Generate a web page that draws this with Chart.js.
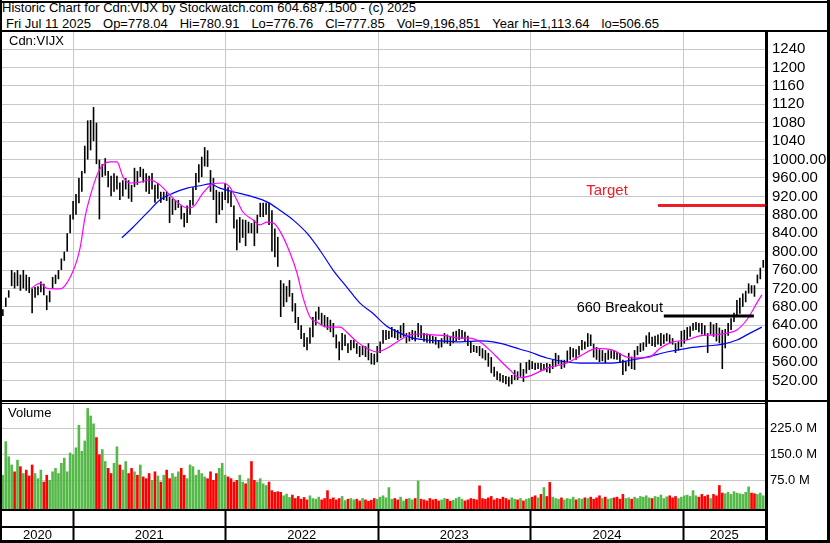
<!DOCTYPE html>
<html>
<head>
<meta charset="utf-8">
<script src="https://cdn.jsdelivr.net/npm/chart.js@4.4.1/dist/chart.umd.min.js"></script>
<style>
    html, body { margin: 0; padding: 0; background: #fff; }
    #page { position: relative; width: 830px; height: 543px; overflow: hidden; font-family: "Liberation Sans", Arial, sans-serif; color: #000; }
    .rule { position: absolute; background: #000; }
    .txt { position: absolute; font-size: 13px; line-height: 16px; white-space: pre; }
    .fields span + span { margin-left: 12px; }
    #priceWrap { position: absolute; left: 2px; top: 32px; width: 826px; height: 368px; }
    #volWrap { position: absolute; left: 2px; top: 404px; width: 826px; height: 137px; }
</style>
</head>
<body>
<div id="page">
    <div class="txt" style="left:2px;top:0px;">Historic Chart for Cdn:VIJX by Stockwatch.com 604.687.1500 - (c) 2025</div>
    <div class="txt fields" style="left:6px;top:16px;"><span>Fri Jul 11 2025</span><span>Op=778.04</span><span>Hi=780.91</span><span>Lo=776.76</span><span>Cl=777.85</span><span>Vol=9,196,851</span><span>Year hi=1,113.64</span><span>lo=506.65</span></div>
    <div id="priceWrap"><canvas id="priceChart" width="826" height="368"></canvas></div>
    <div id="volWrap"><canvas id="volumeChart" width="826" height="137"></canvas></div>
    <div class="txt" style="left:9px;top:33px;">Cdn:VIJX</div>
    <div class="txt" style="left:8px;top:405px;">Volume</div>

    <div class="rule" style="left:0;top:1px;width:830px;height:2px;"></div>
    <div class="rule" style="left:0;top:0;width:2px;height:543px;"></div>
    <div class="rule" style="left:827px;top:0;width:3px;height:543px;"></div>
    <div class="rule" style="left:0;top:540px;width:830px;height:3px;"></div>
    <div class="rule" style="left:0;top:30px;width:830px;height:2px;"></div>
    <div class="rule" style="left:0;top:400px;width:830px;height:2px;"></div>
    <div class="rule" style="left:0;top:403px;width:766px;height:1px;"></div>
    <div class="rule" style="left:0;top:509px;width:766px;height:2px;"></div>
    <div class="rule" style="left:0;top:526px;width:766px;height:2px;"></div>
    <div class="rule" style="left:765px;top:31px;width:3px;height:510px;"></div>
</div>
<script>
// weekly ranges, Jul 17 2020 .. Jul 11 2025 (week index 0..260)
const lows = [
    660, 680, 700, 725, 720, 725, 715, 720, 715, 710,
    666, 700, 705, 712, 705, 673, 690, 720, 730, 740,
    760, 780, 800, 840, 870, 880, 905, 930, 970, 1000,
    1020, 1040, 990, 870, 962, 965, 940, 920, 930, 935,
    912, 920, 935, 915, 908, 940, 945, 962, 950, 930,
    925, 935, 906, 915, 906, 912, 910, 862, 880, 890,
    895, 870, 853, 862, 880, 900, 934, 950, 962, 985,
    984, 930, 912, 862, 880, 890, 912, 905, 897, 850,
    803, 819, 830, 812, 840, 840, 812, 840, 875, 875,
    880, 858, 800, 788, 767, 658, 680, 690, 702, 670,
    645, 630, 610, 593, 586, 600, 614, 640, 652, 640,
    636, 630, 625, 614, 590, 564, 586, 595, 580, 586,
    590, 578, 571, 575, 571, 564, 555, 554, 560, 580,
    600, 608, 610, 614, 612, 608, 612, 615, 601, 605,
    608, 605, 614, 612, 604, 602, 601, 601, 598, 590,
    592, 601, 600, 595, 601, 605, 608, 610, 604, 595,
    580, 582, 580, 573, 568, 564, 550, 536, 528, 521,
    518, 515, 512, 507, 512, 521, 521, 528, 517, 535,
    543, 545, 543, 545, 540, 542, 538, 536, 545, 550,
    555, 545, 548, 560, 565, 570, 565, 575, 586, 588,
    593, 595, 570, 565, 560, 562, 558, 565, 568, 566,
    565, 558, 532, 540, 551, 545, 543, 575, 582, 585,
    593, 600, 595, 593, 598, 595, 600, 605, 601, 598,
    580, 585, 593, 600, 608, 615, 628, 630, 625, 620,
    617, 580, 620, 615, 605, 601, 545, 590, 617, 630,
    647, 658, 665, 680, 690, 709, 709, 702, 731, 740,
    765
];
const highs = [
    675, 700, 716, 760, 755, 760, 750, 760, 750, 745,
    720, 723, 725, 735, 730, 705, 715, 745, 750, 760,
    785, 800, 840, 880, 910, 925, 960, 975, 1030, 1085,
    1086, 1114, 1080, 1000, 990, 1003, 975, 965, 970, 965,
    950, 955, 960, 955, 945, 982, 975, 984, 980, 970,
    965, 971, 945, 949, 930, 930, 930, 919, 915, 912,
    912, 900, 884, 900, 912, 940, 971, 990, 1006, 1027,
    1020, 977, 960, 934, 930, 930, 949, 940, 930, 900,
    870, 875, 870, 869, 865, 862, 869, 880, 906, 906,
    906, 906, 890, 850, 832, 738, 731, 725, 738, 710,
    688, 658, 640, 623, 614, 635, 658, 670, 680, 667,
    662, 658, 652, 645, 620, 605, 623, 620, 601, 608,
    608, 601, 595, 595, 595, 601, 580, 578, 595, 605,
    630, 630, 628, 636, 632, 630, 640, 645, 623, 625,
    630, 628, 645, 640, 623, 622, 620, 617, 615, 608,
    612, 623, 620, 617, 626, 628, 632, 630, 626, 617,
    605, 597, 595, 595, 590, 586, 580, 571, 550, 540,
    536, 532, 530, 528, 532, 543, 540, 558, 545, 560,
    565, 562, 558, 558, 558, 556, 558, 556, 565, 580,
    575, 565, 565, 585, 593, 590, 588, 595, 608, 605,
    623, 620, 600, 593, 588, 586, 580, 586, 586, 585,
    582, 580, 565, 562, 580, 572, 586, 595, 601, 603,
    618, 625, 615, 617, 620, 623, 620, 623, 620, 612,
    601, 605, 628, 630, 636, 638, 645, 647, 645, 645,
    640, 623, 647, 642, 645, 635, 630, 632, 645, 655,
    667, 695, 700, 709, 715, 731, 727, 727, 750, 765,
    782
];
// daily volume level, millions
const volumes = [
    90, 188, 144, 120, 100, 134, 115, 95, 105, 88,
    120, 95, 80, 105, 70, 90, 75, 100, 110, 95,
    125, 140, 100, 155, 150, 170, 236, 160, 190, 285,
    263, 240, 200, 150, 165, 130, 110, 95, 125, 173,
    120, 105, 130, 95, 110, 100, 90, 120, 85, 80,
    95, 75, 100, 88, 70, 90, 105, 80, 95, 85,
    100, 110, 90, 80, 120, 115, 90, 105, 95, 85,
    80, 100, 75, 95, 110, 125, 90, 85, 80, 70,
    75, 90, 70, 65, 80, 130, 75, 70, 80, 65,
    60, 70, 45, 40, 42, 40, 30, 35, 25, 32,
    22, 28, 20, 25, 18, 30, 22, 20, 26, 18,
    22, 45, 20, 24, 18, 22, 28, 16, 20, 22,
    18, 20, 15, 22, 18, 14, 17, 22, 20, 26,
    30, 24, 54, 20, 22, 18, 26, 15, 20, 22,
    18, 22, 73, 20, 18, 15, 22, 18, 20, 15,
    18, 22, 20, 14, 17, 22, 26, 20, 15, 18,
    22, 20, 18, 59, 22, 20, 24, 28, 18, 22,
    20, 26, 22, 18, 24, 20, 18, 22, 15, 20,
    22, 26, 30, 24, 34, 54, 28, 69, 26, 22,
    20, 24, 18, 22, 20, 26, 18, 22, 20, 24,
    22, 26, 20, 24, 30, 22, 26, 20, 22, 24,
    26, 20, 34, 22, 24, 20, 26, 22, 28, 26,
    30, 24, 22, 28, 26, 32, 22, 27, 30, 24,
    28, 22, 26, 30, 32, 28, 45, 30, 26, 34,
    28, 32, 22, 34, 30, 60, 38, 36, 40, 34,
    42, 38, 36, 34, 40, 56, 38, 36, 34, 38,
    30
];

const fastMaWeeks = [9.6, 12.7, 15.1, 19.5, 24.0, 26.4, 28.1, 29.8, 32.5, 34.2, 36.6, 39.0, 41.1, 43.5, 46.9, 50.3, 53.7, 56.5, 59.5, 63.0, 65.0, 68.4, 71.8, 75.3, 77.6, 80.0, 82.1, 85.5, 87.9, 90.3, 92.3, 94.7, 98.2, 100.6, 102.6, 105.0, 107.4, 110.8, 115.3, 117.6, 121.1, 124.5, 127.9, 131.3, 135.8, 139.2, 142.6, 147.1, 151.8, 156.3, 159.7, 163.1, 166.5, 170.0, 173.4, 176.8, 180.2, 186.0, 192.9, 197.3, 203.1, 208.6, 213.4, 217.8, 221.2, 224.7, 229.1, 233.9, 238.3, 242.8, 247.6, 251.0, 254.4, 257.8, 259.5];
const fastMa = [720, 731, 720, 719, 758, 808, 875, 919, 971, 988, 995, 995, 962, 949, 951, 956, 945, 927, 908, 895, 897, 927, 947, 949, 940, 912, 886, 869, 858, 864, 863, 845, 797, 753, 701, 658, 647, 636, 636, 625, 604, 590, 582, 590, 608, 619, 621, 619, 617, 612, 612, 604, 586, 564, 543, 526, 530, 547, 558, 573, 590, 586, 571, 569, 571, 590, 604, 608, 617, 619, 623, 630, 652, 688, 706];
const slowMaWeeks = [40.7, 44.5, 49.3, 53.7, 58.2, 63.0, 67.4, 70.8, 74.2, 78.7, 85.5, 90.3, 94.7, 99.2, 104.0, 108.4, 112.9, 117.6, 122.1, 126.5, 131.3, 135.8, 140.2, 145.0, 149.4, 156.3, 163.1, 167.6, 172.4, 176.8, 180.2, 186.0, 197.3, 208.6, 214.4, 220.2, 227.0, 233.9, 240.7, 246.2, 251.0, 255.5, 259.5];
const slowMa = [830, 853, 884, 912, 927, 938, 943, 947, 938, 930, 919, 908, 890, 869, 840, 803, 760, 723, 688, 666, 638, 623, 612, 608, 606, 604, 606, 604, 597, 588, 582, 569, 558, 558, 564, 571, 582, 590, 595, 599, 608, 623, 636];

const yearStarts = [24.0, 76.14, 128.29, 180.43, 232.71];
const yearMids = [11.85, 50.07, 102.2, 154.36, 206.57, 246.65];
const yearLabels = ['2020', '2021', '2022', '2023', '2024', '2025'];
const priceTicks = [520, 560, 600, 640, 680, 720, 760, 800, 840, 880, 920, 960, 1000, 1040, 1080, 1120, 1160, 1200, 1240];
const volTicks = [75, 150, 225];

const targetPrice = 900;
const breakoutPrice = 660;

const X_MIN = -0.3;
const X_MAX = 260.6;
const VOL_FLOOR = -9.6;
const GRID = '#c8c8c8';
const FAMILY = '"Liberation Sans", Arial, sans-serif';

function noPad(scale) {
    scale.paddingTop = 0;
    scale.paddingBottom = 0;
    scale.paddingLeft = 0;
    scale.paddingRight = 0;
}

const weeks = lows.map((_, i) => i);

const notes = {
    id: 'notes',
    afterDatasetsDraw(chart) {
        const { ctx } = chart;
        const x = chart.scales.x;
        const y = chart.scales.y;
        ctx.save();
        ctx.textAlign = 'right';
        ctx.textBaseline = 'middle';
        ctx.font = '15px ' + FAMILY;
        ctx.fillStyle = '#ee1c25';
        ctx.fillText('Target', x.getPixelForValue(213.7), y.getPixelForValue(932));
        ctx.font = '14.5px ' + FAMILY;
        ctx.fillStyle = '#000';
        ctx.fillText('660 Breakout', x.getPixelForValue(225.7), y.getPixelForValue(677));
        ctx.restore();
    },
};

new Chart(document.getElementById('priceChart'), {
    type: 'bar',
    data: {
        datasets: [
            {
                type: 'line',
                data: [{ x: 224, y: targetPrice }, { x: X_MAX, y: targetPrice }],
                borderColor: '#ee1c25',
                borderWidth: 3,
                pointRadius: 0,
                order: 0,
            },
            {
                type: 'line',
                data: [{ x: 226, y: breakoutPrice }, { x: 256.8, y: breakoutPrice }],
                borderColor: '#000',
                borderWidth: 3,
                pointRadius: 0,
                order: 0,
            },
            {
                type: 'line',
                data: fastMaWeeks.map((w, i) => ({ x: w, y: fastMa[i] })),
                borderColor: '#ff00ff',
                borderWidth: 1.2,
                pointRadius: 0,
                cubicInterpolationMode: 'monotone',
                order: 1,
            },
            {
                type: 'line',
                data: slowMaWeeks.map((w, i) => ({ x: w, y: slowMa[i] })),
                borderColor: '#0000ff',
                borderWidth: 1.2,
                pointRadius: 0,
                cubicInterpolationMode: 'monotone',
                order: 1,
            },
            {
                type: 'bar',
                data: weeks.map((i) => ({ x: i, y: [lows[i], highs[i]] })),
                backgroundColor: '#000',
                borderWidth: 0,
                barPercentage: 0.55,
                categoryPercentage: 1,
                order: 2,
            },
        ],
    },
    options: {
        responsive: false,
        animation: false,
        devicePixelRatio: 1,
        layout: { padding: 0 },
        plugins: { legend: { display: false }, tooltip: { enabled: false } },
        scales: {
            x: {
                type: 'linear',
                offset: false,
                min: X_MIN,
                max: X_MAX,
                afterBuildTicks: (s) => { s.ticks = yearStarts.map((v) => ({ value: v })); },
                ticks: { display: false },
                grid: { color: GRID, drawTicks: false, offset: false },
                border: { display: false },
                afterFit: (s) => { s.height = 0; noPad(s); },
            },
            y: {
                type: 'linear',
                position: 'right',
                min: 477.7,
                max: 1277,
                afterBuildTicks: (s) => { s.ticks = priceTicks.map((v) => ({ value: v })); },
                ticks: {
                    autoSkip: false,
                    callback: (v) => (v > 1000 ? String(v) : v.toFixed(2)),
                    color: '#000',
                    font: { family: FAMILY, size: 15 },
                    padding: 7,
                },
                grid: { color: GRID, drawTicks: false },
                border: { display: false },
                afterFit: (s) => { s.width = 63; noPad(s); },
            },
        },
    },
    plugins: [notes],
});

const volColors = weeks.map((i) => {
    if (i === 0) return '#55b94a';
    const now = lows[i] + highs[i];
    const before = lows[i - 1] + highs[i - 1];
    return now >= before ? '#55b94a' : '#ff0000';
});

new Chart(document.getElementById('volumeChart'), {
    type: 'bar',
    data: {
        datasets: [
            {
                data: weeks.map((i) => ({ x: i, y: volumes[i] })),
                backgroundColor: volColors,
                base: VOL_FLOOR,
                borderWidth: 0,
                barPercentage: 0.9,
                categoryPercentage: 1,
            },
        ],
    },
    options: {
        responsive: false,
        animation: false,
        devicePixelRatio: 1,
        layout: { padding: 0 },
        plugins: { legend: { display: false }, tooltip: { enabled: false } },
        scales: {
            x: {
                type: 'linear',
                offset: false,
                min: X_MIN,
                max: X_MAX,
                afterBuildTicks: (s) => { s.ticks = yearStarts.concat(yearMids).map((v) => ({ value: v })); },
                ticks: {
                    autoSkip: false,
                    maxRotation: 0,
                    padding: -12,
                    color: '#000',
                    font: { family: FAMILY, size: 13 },
                    callback: (v) => {
                        const k = yearMids.indexOf(v);
                        return k >= 0 ? yearLabels[k] : '';
                    },
                },
                grid: {
                    offset: false,
                    color: (c) => (c.tick && yearStarts.includes(c.tick.value) ? GRID : 'rgba(0,0,0,0)'),
                    tickColor: (c) => (c.tick && yearStarts.includes(c.tick.value) ? '#000' : 'rgba(0,0,0,0)'),
                    tickLength: 31,
                    tickWidth: 2,
                },
                border: { display: false },
                afterFit: (s) => { s.height = 32; noPad(s); },
            },
            y: {
                type: 'linear',
                position: 'right',
                min: VOL_FLOOR,
                max: 297,
                afterBuildTicks: (s) => { s.ticks = volTicks.map((v) => ({ value: v })); },
                ticks: {
                    autoSkip: false,
                    callback: (v) => v.toFixed(1) + ' M',
                    color: '#000',
                    font: { family: FAMILY, size: 13 },
                    padding: 5,
                },
                grid: { color: GRID, drawTicks: false },
                border: { display: false },
                afterFit: (s) => { s.width = 63; noPad(s); },
            },
        },
    },
});
</script>
</body>
</html>
